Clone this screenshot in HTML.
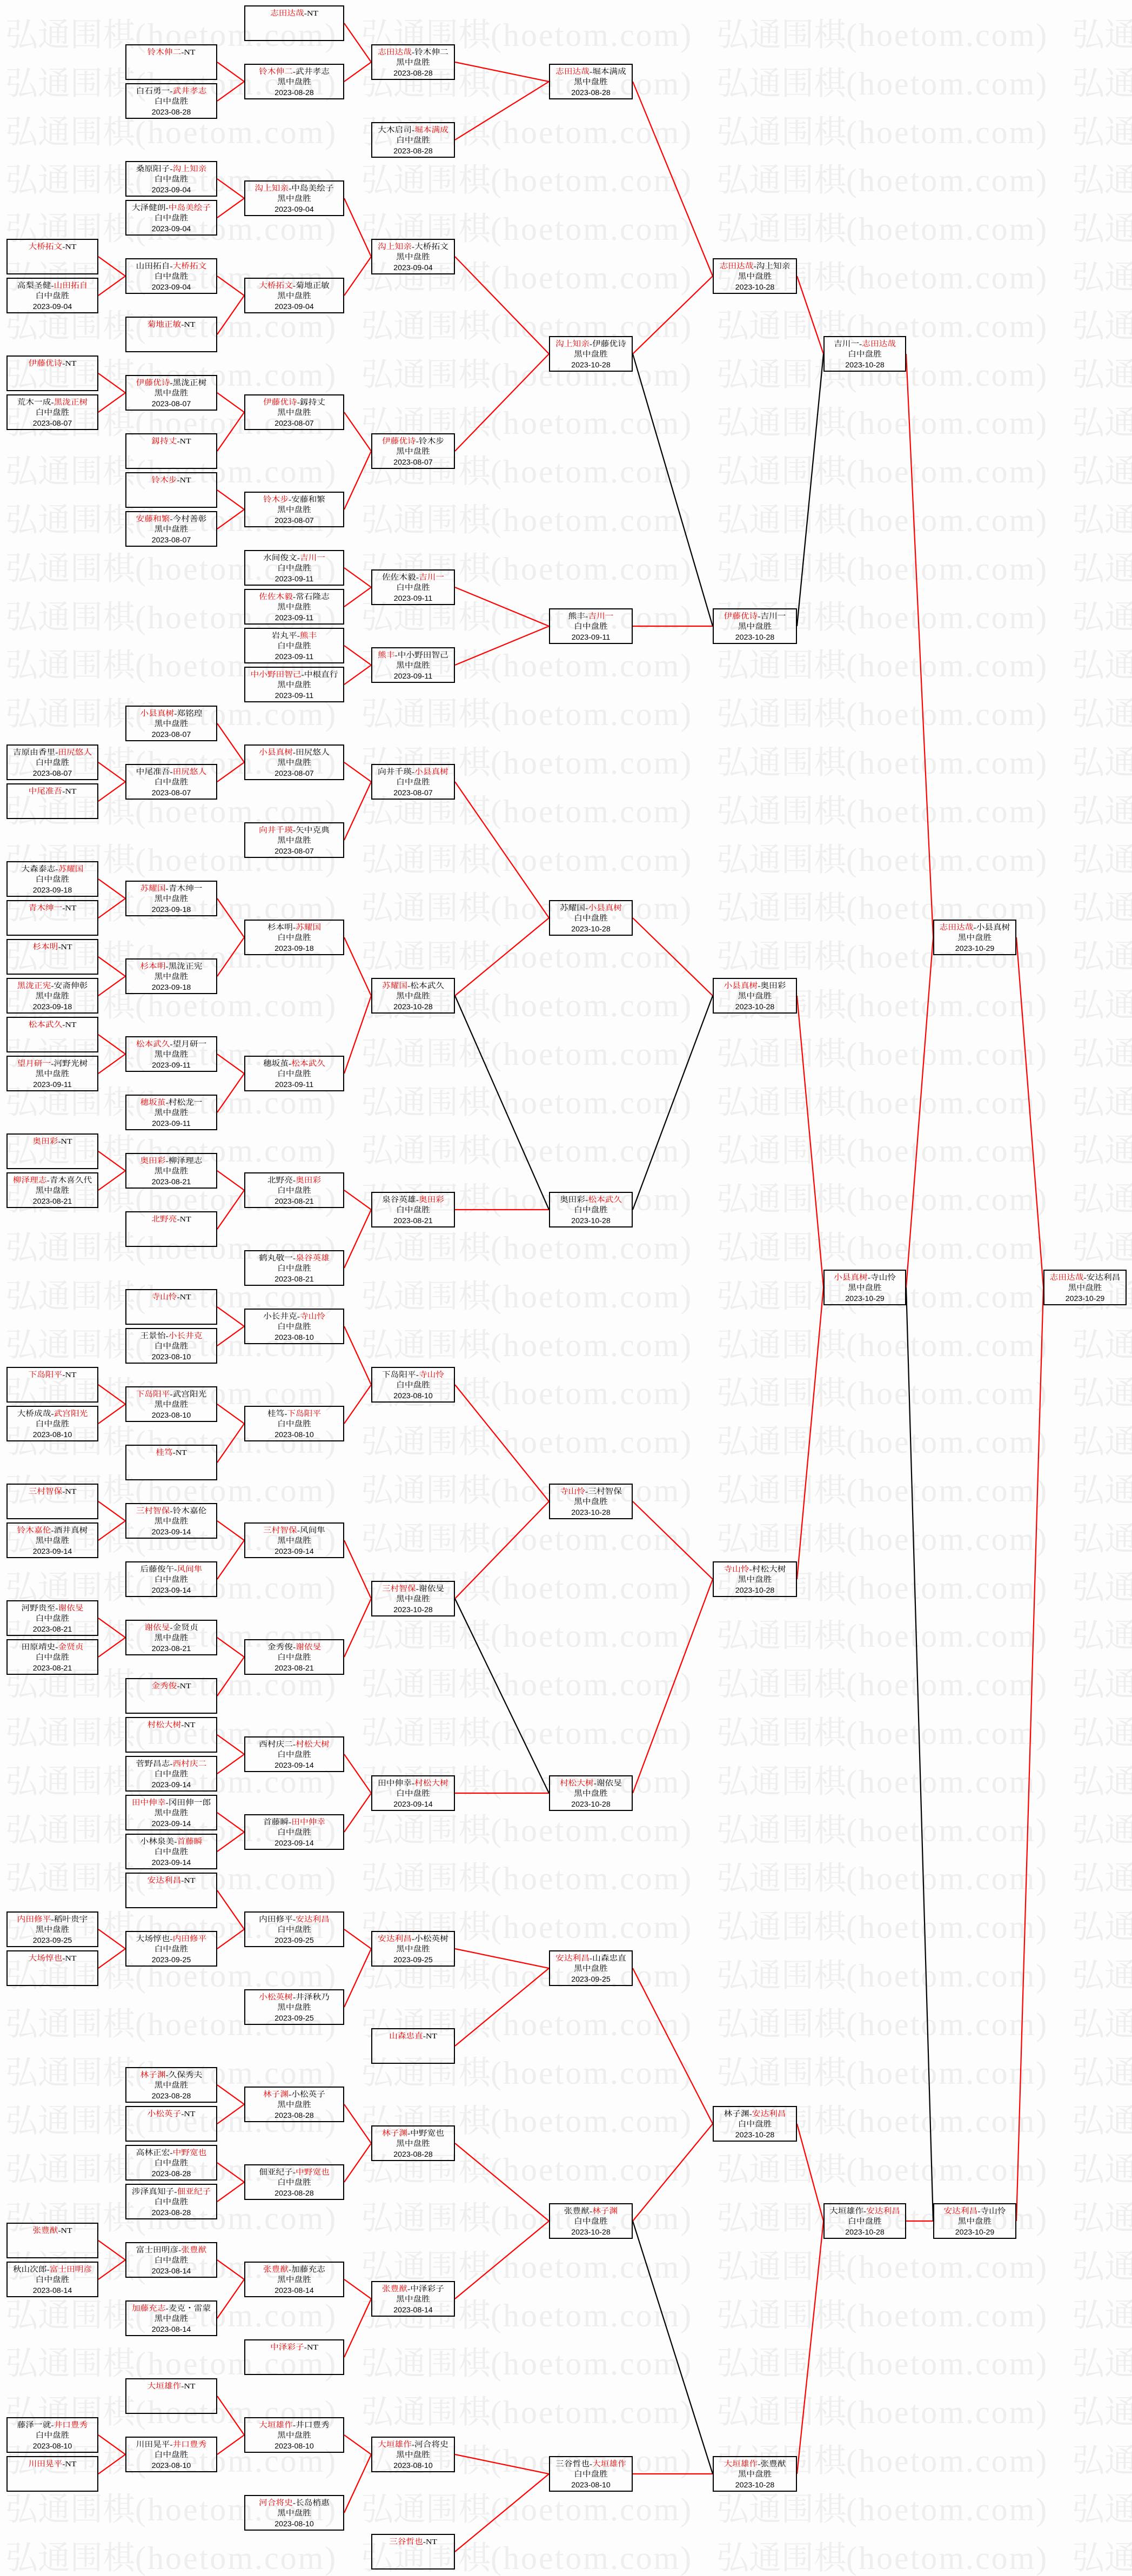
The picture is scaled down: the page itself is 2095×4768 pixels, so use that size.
<!DOCTYPE html>
<html><head><meta charset="utf-8">
<style>
html,body{margin:0;padding:0}
body{width:2095px;height:4765px;position:relative;overflow:hidden;background:#fdfdfd}
.wm{position:absolute;left:10px;white-space:nowrap;font-family:"Liberation Serif","Noto Serif CJK SC",serif;font-size:60px;line-height:60px;color:#eeeeee}
.wm span{display:inline-block;width:658px}
.wm b{font-weight:normal;letter-spacing:3px}
svg{position:absolute;left:0;top:0}
.b{position:absolute;height:66px;box-sizing:border-box;border:2px solid #000;text-align:center;padding-top:4px}
.b p{margin:0;height:19px;line-height:19px;font-size:14px;font-family:"Liberation Serif","Noto Serif CJK SC",serif;color:#000;transform:scaleX(1.12);white-space:nowrap}
.b p.d{font-family:"Liberation Sans",sans-serif;font-size:13.5px;transform:scaleX(1.05)}
.b i{font-style:normal;color:#e80000}
.c0{left:12px;width:170px}.c1{left:232px;width:170px}.c2{left:452px;width:185px}.c3{left:687px;width:155px}
.c4{left:1016px;width:155px}.c5{left:1319px;width:156px}.c6{left:1524px;width:153px}.c7{left:1727px;width:154px}.c8{left:1931px;width:154px}
</style></head><body>

<div class="wm" style="top:35px"><span>弘通围棋<b>(hoetom.com)</b></span><span>弘通围棋<b>(hoetom.com)</b></span><span>弘通围棋<b>(hoetom.com)</b></span><span>弘通围棋<b>(hoetom.com)</b></span></div>
<div class="wm" style="top:125px"><span>弘通围棋<b>(hoetom.com)</b></span><span>弘通围棋<b>(hoetom.com)</b></span><span>弘通围棋<b>(hoetom.com)</b></span><span>弘通围棋<b>(hoetom.com)</b></span></div>
<div class="wm" style="top:215px"><span>弘通围棋<b>(hoetom.com)</b></span><span>弘通围棋<b>(hoetom.com)</b></span><span>弘通围棋<b>(hoetom.com)</b></span><span>弘通围棋<b>(hoetom.com)</b></span></div>
<div class="wm" style="top:304px"><span>弘通围棋<b>(hoetom.com)</b></span><span>弘通围棋<b>(hoetom.com)</b></span><span>弘通围棋<b>(hoetom.com)</b></span><span>弘通围棋<b>(hoetom.com)</b></span></div>
<div class="wm" style="top:394px"><span>弘通围棋<b>(hoetom.com)</b></span><span>弘通围棋<b>(hoetom.com)</b></span><span>弘通围棋<b>(hoetom.com)</b></span><span>弘通围棋<b>(hoetom.com)</b></span></div>
<div class="wm" style="top:484px"><span>弘通围棋<b>(hoetom.com)</b></span><span>弘通围棋<b>(hoetom.com)</b></span><span>弘通围棋<b>(hoetom.com)</b></span><span>弘通围棋<b>(hoetom.com)</b></span></div>
<div class="wm" style="top:574px"><span>弘通围棋<b>(hoetom.com)</b></span><span>弘通围棋<b>(hoetom.com)</b></span><span>弘通围棋<b>(hoetom.com)</b></span><span>弘通围棋<b>(hoetom.com)</b></span></div>
<div class="wm" style="top:664px"><span>弘通围棋<b>(hoetom.com)</b></span><span>弘通围棋<b>(hoetom.com)</b></span><span>弘通围棋<b>(hoetom.com)</b></span><span>弘通围棋<b>(hoetom.com)</b></span></div>
<div class="wm" style="top:753px"><span>弘通围棋<b>(hoetom.com)</b></span><span>弘通围棋<b>(hoetom.com)</b></span><span>弘通围棋<b>(hoetom.com)</b></span><span>弘通围棋<b>(hoetom.com)</b></span></div>
<div class="wm" style="top:843px"><span>弘通围棋<b>(hoetom.com)</b></span><span>弘通围棋<b>(hoetom.com)</b></span><span>弘通围棋<b>(hoetom.com)</b></span><span>弘通围棋<b>(hoetom.com)</b></span></div>
<div class="wm" style="top:933px"><span>弘通围棋<b>(hoetom.com)</b></span><span>弘通围棋<b>(hoetom.com)</b></span><span>弘通围棋<b>(hoetom.com)</b></span><span>弘通围棋<b>(hoetom.com)</b></span></div>
<div class="wm" style="top:1023px"><span>弘通围棋<b>(hoetom.com)</b></span><span>弘通围棋<b>(hoetom.com)</b></span><span>弘通围棋<b>(hoetom.com)</b></span><span>弘通围棋<b>(hoetom.com)</b></span></div>
<div class="wm" style="top:1113px"><span>弘通围棋<b>(hoetom.com)</b></span><span>弘通围棋<b>(hoetom.com)</b></span><span>弘通围棋<b>(hoetom.com)</b></span><span>弘通围棋<b>(hoetom.com)</b></span></div>
<div class="wm" style="top:1202px"><span>弘通围棋<b>(hoetom.com)</b></span><span>弘通围棋<b>(hoetom.com)</b></span><span>弘通围棋<b>(hoetom.com)</b></span><span>弘通围棋<b>(hoetom.com)</b></span></div>
<div class="wm" style="top:1292px"><span>弘通围棋<b>(hoetom.com)</b></span><span>弘通围棋<b>(hoetom.com)</b></span><span>弘通围棋<b>(hoetom.com)</b></span><span>弘通围棋<b>(hoetom.com)</b></span></div>
<div class="wm" style="top:1382px"><span>弘通围棋<b>(hoetom.com)</b></span><span>弘通围棋<b>(hoetom.com)</b></span><span>弘通围棋<b>(hoetom.com)</b></span><span>弘通围棋<b>(hoetom.com)</b></span></div>
<div class="wm" style="top:1472px"><span>弘通围棋<b>(hoetom.com)</b></span><span>弘通围棋<b>(hoetom.com)</b></span><span>弘通围棋<b>(hoetom.com)</b></span><span>弘通围棋<b>(hoetom.com)</b></span></div>
<div class="wm" style="top:1562px"><span>弘通围棋<b>(hoetom.com)</b></span><span>弘通围棋<b>(hoetom.com)</b></span><span>弘通围棋<b>(hoetom.com)</b></span><span>弘通围棋<b>(hoetom.com)</b></span></div>
<div class="wm" style="top:1651px"><span>弘通围棋<b>(hoetom.com)</b></span><span>弘通围棋<b>(hoetom.com)</b></span><span>弘通围棋<b>(hoetom.com)</b></span><span>弘通围棋<b>(hoetom.com)</b></span></div>
<div class="wm" style="top:1741px"><span>弘通围棋<b>(hoetom.com)</b></span><span>弘通围棋<b>(hoetom.com)</b></span><span>弘通围棋<b>(hoetom.com)</b></span><span>弘通围棋<b>(hoetom.com)</b></span></div>
<div class="wm" style="top:1831px"><span>弘通围棋<b>(hoetom.com)</b></span><span>弘通围棋<b>(hoetom.com)</b></span><span>弘通围棋<b>(hoetom.com)</b></span><span>弘通围棋<b>(hoetom.com)</b></span></div>
<div class="wm" style="top:1921px"><span>弘通围棋<b>(hoetom.com)</b></span><span>弘通围棋<b>(hoetom.com)</b></span><span>弘通围棋<b>(hoetom.com)</b></span><span>弘通围棋<b>(hoetom.com)</b></span></div>
<div class="wm" style="top:2011px"><span>弘通围棋<b>(hoetom.com)</b></span><span>弘通围棋<b>(hoetom.com)</b></span><span>弘通围棋<b>(hoetom.com)</b></span><span>弘通围棋<b>(hoetom.com)</b></span></div>
<div class="wm" style="top:2100px"><span>弘通围棋<b>(hoetom.com)</b></span><span>弘通围棋<b>(hoetom.com)</b></span><span>弘通围棋<b>(hoetom.com)</b></span><span>弘通围棋<b>(hoetom.com)</b></span></div>
<div class="wm" style="top:2190px"><span>弘通围棋<b>(hoetom.com)</b></span><span>弘通围棋<b>(hoetom.com)</b></span><span>弘通围棋<b>(hoetom.com)</b></span><span>弘通围棋<b>(hoetom.com)</b></span></div>
<div class="wm" style="top:2280px"><span>弘通围棋<b>(hoetom.com)</b></span><span>弘通围棋<b>(hoetom.com)</b></span><span>弘通围棋<b>(hoetom.com)</b></span><span>弘通围棋<b>(hoetom.com)</b></span></div>
<div class="wm" style="top:2370px"><span>弘通围棋<b>(hoetom.com)</b></span><span>弘通围棋<b>(hoetom.com)</b></span><span>弘通围棋<b>(hoetom.com)</b></span><span>弘通围棋<b>(hoetom.com)</b></span></div>
<div class="wm" style="top:2460px"><span>弘通围棋<b>(hoetom.com)</b></span><span>弘通围棋<b>(hoetom.com)</b></span><span>弘通围棋<b>(hoetom.com)</b></span><span>弘通围棋<b>(hoetom.com)</b></span></div>
<div class="wm" style="top:2549px"><span>弘通围棋<b>(hoetom.com)</b></span><span>弘通围棋<b>(hoetom.com)</b></span><span>弘通围棋<b>(hoetom.com)</b></span><span>弘通围棋<b>(hoetom.com)</b></span></div>
<div class="wm" style="top:2639px"><span>弘通围棋<b>(hoetom.com)</b></span><span>弘通围棋<b>(hoetom.com)</b></span><span>弘通围棋<b>(hoetom.com)</b></span><span>弘通围棋<b>(hoetom.com)</b></span></div>
<div class="wm" style="top:2729px"><span>弘通围棋<b>(hoetom.com)</b></span><span>弘通围棋<b>(hoetom.com)</b></span><span>弘通围棋<b>(hoetom.com)</b></span><span>弘通围棋<b>(hoetom.com)</b></span></div>
<div class="wm" style="top:2819px"><span>弘通围棋<b>(hoetom.com)</b></span><span>弘通围棋<b>(hoetom.com)</b></span><span>弘通围棋<b>(hoetom.com)</b></span><span>弘通围棋<b>(hoetom.com)</b></span></div>
<div class="wm" style="top:2909px"><span>弘通围棋<b>(hoetom.com)</b></span><span>弘通围棋<b>(hoetom.com)</b></span><span>弘通围棋<b>(hoetom.com)</b></span><span>弘通围棋<b>(hoetom.com)</b></span></div>
<div class="wm" style="top:2998px"><span>弘通围棋<b>(hoetom.com)</b></span><span>弘通围棋<b>(hoetom.com)</b></span><span>弘通围棋<b>(hoetom.com)</b></span><span>弘通围棋<b>(hoetom.com)</b></span></div>
<div class="wm" style="top:3088px"><span>弘通围棋<b>(hoetom.com)</b></span><span>弘通围棋<b>(hoetom.com)</b></span><span>弘通围棋<b>(hoetom.com)</b></span><span>弘通围棋<b>(hoetom.com)</b></span></div>
<div class="wm" style="top:3178px"><span>弘通围棋<b>(hoetom.com)</b></span><span>弘通围棋<b>(hoetom.com)</b></span><span>弘通围棋<b>(hoetom.com)</b></span><span>弘通围棋<b>(hoetom.com)</b></span></div>
<div class="wm" style="top:3268px"><span>弘通围棋<b>(hoetom.com)</b></span><span>弘通围棋<b>(hoetom.com)</b></span><span>弘通围棋<b>(hoetom.com)</b></span><span>弘通围棋<b>(hoetom.com)</b></span></div>
<div class="wm" style="top:3358px"><span>弘通围棋<b>(hoetom.com)</b></span><span>弘通围棋<b>(hoetom.com)</b></span><span>弘通围棋<b>(hoetom.com)</b></span><span>弘通围棋<b>(hoetom.com)</b></span></div>
<div class="wm" style="top:3447px"><span>弘通围棋<b>(hoetom.com)</b></span><span>弘通围棋<b>(hoetom.com)</b></span><span>弘通围棋<b>(hoetom.com)</b></span><span>弘通围棋<b>(hoetom.com)</b></span></div>
<div class="wm" style="top:3537px"><span>弘通围棋<b>(hoetom.com)</b></span><span>弘通围棋<b>(hoetom.com)</b></span><span>弘通围棋<b>(hoetom.com)</b></span><span>弘通围棋<b>(hoetom.com)</b></span></div>
<div class="wm" style="top:3627px"><span>弘通围棋<b>(hoetom.com)</b></span><span>弘通围棋<b>(hoetom.com)</b></span><span>弘通围棋<b>(hoetom.com)</b></span><span>弘通围棋<b>(hoetom.com)</b></span></div>
<div class="wm" style="top:3717px"><span>弘通围棋<b>(hoetom.com)</b></span><span>弘通围棋<b>(hoetom.com)</b></span><span>弘通围棋<b>(hoetom.com)</b></span><span>弘通围棋<b>(hoetom.com)</b></span></div>
<div class="wm" style="top:3807px"><span>弘通围棋<b>(hoetom.com)</b></span><span>弘通围棋<b>(hoetom.com)</b></span><span>弘通围棋<b>(hoetom.com)</b></span><span>弘通围棋<b>(hoetom.com)</b></span></div>
<div class="wm" style="top:3896px"><span>弘通围棋<b>(hoetom.com)</b></span><span>弘通围棋<b>(hoetom.com)</b></span><span>弘通围棋<b>(hoetom.com)</b></span><span>弘通围棋<b>(hoetom.com)</b></span></div>
<div class="wm" style="top:3986px"><span>弘通围棋<b>(hoetom.com)</b></span><span>弘通围棋<b>(hoetom.com)</b></span><span>弘通围棋<b>(hoetom.com)</b></span><span>弘通围棋<b>(hoetom.com)</b></span></div>
<div class="wm" style="top:4076px"><span>弘通围棋<b>(hoetom.com)</b></span><span>弘通围棋<b>(hoetom.com)</b></span><span>弘通围棋<b>(hoetom.com)</b></span><span>弘通围棋<b>(hoetom.com)</b></span></div>
<div class="wm" style="top:4166px"><span>弘通围棋<b>(hoetom.com)</b></span><span>弘通围棋<b>(hoetom.com)</b></span><span>弘通围棋<b>(hoetom.com)</b></span><span>弘通围棋<b>(hoetom.com)</b></span></div>
<div class="wm" style="top:4256px"><span>弘通围棋<b>(hoetom.com)</b></span><span>弘通围棋<b>(hoetom.com)</b></span><span>弘通围棋<b>(hoetom.com)</b></span><span>弘通围棋<b>(hoetom.com)</b></span></div>
<div class="wm" style="top:4345px"><span>弘通围棋<b>(hoetom.com)</b></span><span>弘通围棋<b>(hoetom.com)</b></span><span>弘通围棋<b>(hoetom.com)</b></span><span>弘通围棋<b>(hoetom.com)</b></span></div>
<div class="wm" style="top:4435px"><span>弘通围棋<b>(hoetom.com)</b></span><span>弘通围棋<b>(hoetom.com)</b></span><span>弘通围棋<b>(hoetom.com)</b></span><span>弘通围棋<b>(hoetom.com)</b></span></div>
<div class="wm" style="top:4525px"><span>弘通围棋<b>(hoetom.com)</b></span><span>弘通围棋<b>(hoetom.com)</b></span><span>弘通围棋<b>(hoetom.com)</b></span><span>弘通围棋<b>(hoetom.com)</b></span></div>
<div class="wm" style="top:4615px"><span>弘通围棋<b>(hoetom.com)</b></span><span>弘通围棋<b>(hoetom.com)</b></span><span>弘通围棋<b>(hoetom.com)</b></span><span>弘通围棋<b>(hoetom.com)</b></span></div>
<div class="wm" style="top:4705px"><span>弘通围棋<b>(hoetom.com)</b></span><span>弘通围棋<b>(hoetom.com)</b></span><span>弘通围棋<b>(hoetom.com)</b></span><span>弘通围棋<b>(hoetom.com)</b></span></div>

<svg width="2095" height="4765" viewBox="0 0 2095 4765">
<path fill="none" stroke="#ff0000" stroke-width="2.2" d="
M182 475L232 511L182 547 M182 691L232 727L182 763 M182 1411L232 1447L182 1483 M182 1627L232 1663L182 1699 M182 1771L232 1807L182 1843 M182 1915L232 1951L182 1987 M182 2131L232 2167L182 2203 M182 2563L232 2599L182 2635 M182 2779L232 2815L182 2851 M182 2995L232 3031L182 3067 M182 3571L232 3607L182 3643 M182 4147L232 4183L182 4219 M182 4507L232 4543L182 4579
M402 115L452 151L402 187 M402 331L452 367L402 403 M402 511L452 547L402 619 M402 727L452 763L402 835 M402 907L452 943L402 979 M402 1339L452 1411L402 1447 M402 1663L452 1735L402 1807 M402 1951L452 1987L402 2059 M402 2167L452 2203L402 2275 M402 2419L452 2455L402 2491 M402 2599L452 2635L402 2707 M402 2815L452 2851L402 2923 M402 3031L452 3067L402 3139 M402 3211L452 3247L402 3283 M402 3355L452 3391L402 3427 M402 3499L452 3571L402 3607 M402 3859L452 3895L402 3931 M402 4003L452 4039L402 4075 M402 4183L452 4219L402 4291 M402 4435L452 4507L402 4543
M637 43L687 115L637 151 M637 367L687 475L637 547 M637 763L687 835L637 943 M637 1051L687 1087L637 1123 M637 1195L687 1231L637 1267 M637 1411L687 1447L637 1555 M637 1735L687 1843L637 1987 M637 2203L687 2239L637 2347 M637 2455L687 2563L637 2635 M637 2851L687 2959L637 3067 M637 3247L687 3319L637 3391 M637 3571L687 3607L637 3715 M637 3895L687 3967L637 4039 M637 4219L687 4255L637 4363 M637 4507L687 4543L637 4651
M842 115L1016 151L842 259 M842 475L1016 655L842 835 M842 1087L1016 1159L842 1231 M842 1447L1016 1699L842 1843 M842 2239L1016 2239 M842 2563L1016 2779L842 2959 M842 3319L1016 3319 M842 3607L1016 3643L842 3787 M842 3967L1016 4111L842 4255 M842 4543L1016 4579L842 4723
M1171 151L1319 511L1171 655 M1171 1159L1319 1159 M1171 1699L1319 1843 M1171 2779L1319 2923L1171 3319 M1171 3643L1319 3931L1171 4111 M1171 4579L1319 4579
M1475 511L1524 655 M1475 1843L1524 2383L1475 2923 M1475 3931L1524 4111L1475 4579
M1677 655L1727 1735L1677 2383 M1677 4111L1727 4111
M1881 1735L1931 2383L1881 4111"/>
<path fill="none" stroke="#000" stroke-width="2.2" d="M842 1843L1016 2239 M842 2959L1016 3319 M1171 655L1319 1159 M1171 2239L1319 1843 M1171 4111L1319 4579 M1475 1159L1524 655 M1677 2383L1727 4111"/>
</svg>

<!-- column 0 -->
<div class="b c0" style="top:442px"><p><i>大桥拓文</i>-NT</p></div>
<div class="b c0" style="top:514px"><p>高梨圣健-<i>山田拓自</i></p><p>白中盘胜</p><p class="d">2023-09-04</p></div>
<div class="b c0" style="top:658px"><p><i>伊藤优诗</i>-NT</p></div>
<div class="b c0" style="top:730px"><p>荒木一成-<i>黑泷正树</i></p><p>白中盘胜</p><p class="d">2023-08-07</p></div>
<div class="b c0" style="top:1378px"><p>吉原由香里-<i>田尻悠人</i></p><p>白中盘胜</p><p class="d">2023-08-07</p></div>
<div class="b c0" style="top:1450px"><p><i>中尾准吾</i>-NT</p></div>
<div class="b c0" style="top:1594px"><p>大森泰志-<i>苏耀国</i></p><p>白中盘胜</p><p class="d">2023-09-18</p></div>
<div class="b c0" style="top:1666px"><p><i>青木绅一</i>-NT</p></div>
<div class="b c0" style="top:1738px"><p><i>杉本明</i>-NT</p></div>
<div class="b c0" style="top:1810px"><p><i>黑泷正宪</i>-安斋伸彰</p><p>黑中盘胜</p><p class="d">2023-09-18</p></div>
<div class="b c0" style="top:1882px"><p><i>松本武久</i>-NT</p></div>
<div class="b c0" style="top:1954px"><p><i>望月研一</i>-河野光树</p><p>黑中盘胜</p><p class="d">2023-09-11</p></div>
<div class="b c0" style="top:2098px"><p><i>奥田彩</i>-NT</p></div>
<div class="b c0" style="top:2170px"><p><i>柳泽理志</i>-青木喜久代</p><p>黑中盘胜</p><p class="d">2023-08-21</p></div>
<div class="b c0" style="top:2530px"><p><i>下岛阳平</i>-NT</p></div>
<div class="b c0" style="top:2602px"><p>大桥成哉-<i>武宫阳光</i></p><p>白中盘胜</p><p class="d">2023-08-10</p></div>
<div class="b c0" style="top:2746px"><p><i>三村智保</i>-NT</p></div>
<div class="b c0" style="top:2818px"><p><i>铃木嘉伦</i>-酒井真树</p><p>黑中盘胜</p><p class="d">2023-09-14</p></div>
<div class="b c0" style="top:2962px"><p>河野贵至-<i>谢依旻</i></p><p>白中盘胜</p><p class="d">2023-08-21</p></div>
<div class="b c0" style="top:3034px"><p>田原靖史-<i>金贤贞</i></p><p>白中盘胜</p><p class="d">2023-08-21</p></div>
<div class="b c0" style="top:3538px"><p><i>内田修平</i>-稻叶贵宇</p><p>黑中盘胜</p><p class="d">2023-09-25</p></div>
<div class="b c0" style="top:3610px"><p><i>大场惇也</i>-NT</p></div>
<div class="b c0" style="top:4114px"><p><i>张豊猷</i>-NT</p></div>
<div class="b c0" style="top:4186px"><p>秋山次郎-<i>富士田明彦</i></p><p>白中盘胜</p><p class="d">2023-08-14</p></div>
<div class="b c0" style="top:4474px"><p>藤泽一就-<i>井口豊秀</i></p><p>白中盘胜</p><p class="d">2023-08-10</p></div>
<div class="b c0" style="top:4546px"><p><i>川田晃平</i>-NT</p></div>

<!-- column 1 -->
<div class="b c1" style="top:82px"><p><i>铃木伸二</i>-NT</p></div>
<div class="b c1" style="top:154px"><p>白石勇一-<i>武井孝志</i></p><p>白中盘胜</p><p class="d">2023-08-28</p></div>
<div class="b c1" style="top:298px"><p>桑原阳子-<i>沟上知亲</i></p><p>白中盘胜</p><p class="d">2023-09-04</p></div>
<div class="b c1" style="top:370px"><p>大泽健朗-<i>中岛美绘子</i></p><p>白中盘胜</p><p class="d">2023-09-04</p></div>
<div class="b c1" style="top:478px"><p>山田拓自-<i>大桥拓文</i></p><p>白中盘胜</p><p class="d">2023-09-04</p></div>
<div class="b c1" style="top:586px"><p><i>菊地正敏</i>-NT</p></div>
<div class="b c1" style="top:694px"><p><i>伊藤优诗</i>-黑泷正树</p><p>黑中盘胜</p><p class="d">2023-08-07</p></div>
<div class="b c1" style="top:802px"><p><i>釼持丈</i>-NT</p></div>
<div class="b c1" style="top:874px"><p><i>铃木步</i>-NT</p></div>
<div class="b c1" style="top:946px"><p><i>安藤和繁</i>-今村善彰</p><p>黑中盘胜</p><p class="d">2023-08-07</p></div>
<div class="b c1" style="top:1306px"><p><i>小县真树</i>-郑铭瑝</p><p>黑中盘胜</p><p class="d">2023-08-07</p></div>
<div class="b c1" style="top:1414px"><p>中尾准吾-<i>田尻悠人</i></p><p>白中盘胜</p><p class="d">2023-08-07</p></div>
<div class="b c1" style="top:1630px"><p><i>苏耀国</i>-青木绅一</p><p>黑中盘胜</p><p class="d">2023-09-18</p></div>
<div class="b c1" style="top:1774px"><p><i>杉本明</i>-黑泷正宪</p><p>黑中盘胜</p><p class="d">2023-09-18</p></div>
<div class="b c1" style="top:1918px"><p><i>松本武久</i>-望月研一</p><p>黑中盘胜</p><p class="d">2023-09-11</p></div>
<div class="b c1" style="top:2026px"><p><i>穗坂茧</i>-村松龙一</p><p>黑中盘胜</p><p class="d">2023-09-11</p></div>
<div class="b c1" style="top:2134px"><p><i>奥田彩</i>-柳泽理志</p><p>黑中盘胜</p><p class="d">2023-08-21</p></div>
<div class="b c1" style="top:2242px"><p><i>北野亮</i>-NT</p></div>
<div class="b c1" style="top:2386px"><p><i>寺山怜</i>-NT</p></div>
<div class="b c1" style="top:2458px"><p>王景怡-<i>小长井克</i></p><p>白中盘胜</p><p class="d">2023-08-10</p></div>
<div class="b c1" style="top:2566px"><p><i>下岛阳平</i>-武宫阳光</p><p>黑中盘胜</p><p class="d">2023-08-10</p></div>
<div class="b c1" style="top:2674px"><p><i>桂笃</i>-NT</p></div>
<div class="b c1" style="top:2782px"><p><i>三村智保</i>-铃木嘉伦</p><p>黑中盘胜</p><p class="d">2023-09-14</p></div>
<div class="b c1" style="top:2890px"><p>后藤俊午-<i>风间隼</i></p><p>白中盘胜</p><p class="d">2023-09-14</p></div>
<div class="b c1" style="top:2998px"><p><i>谢依旻</i>-金贤贞</p><p>黑中盘胜</p><p class="d">2023-08-21</p></div>
<div class="b c1" style="top:3106px"><p><i>金秀俊</i>-NT</p></div>
<div class="b c1" style="top:3178px"><p><i>村松大树</i>-NT</p></div>
<div class="b c1" style="top:3250px"><p>菅野昌志-<i>西村庆二</i></p><p>白中盘胜</p><p class="d">2023-09-14</p></div>
<div class="b c1" style="top:3322px"><p><i>田中伸幸</i>-冈田伸一郎</p><p>黑中盘胜</p><p class="d">2023-09-14</p></div>
<div class="b c1" style="top:3394px"><p>小林泉美-<i>首藤瞬</i></p><p>白中盘胜</p><p class="d">2023-09-14</p></div>
<div class="b c1" style="top:3466px"><p><i>安达利昌</i>-NT</p></div>
<div class="b c1" style="top:3574px"><p>大场惇也-<i>内田修平</i></p><p>白中盘胜</p><p class="d">2023-09-25</p></div>
<div class="b c1" style="top:3826px"><p><i>林子渊</i>-久保秀夫</p><p>黑中盘胜</p><p class="d">2023-08-28</p></div>
<div class="b c1" style="top:3898px"><p><i>小松英子</i>-NT</p></div>
<div class="b c1" style="top:3970px"><p>高林正宏-<i>中野宽也</i></p><p>白中盘胜</p><p class="d">2023-08-28</p></div>
<div class="b c1" style="top:4042px"><p>涉泽真知子-<i>佃亚纪子</i></p><p>白中盘胜</p><p class="d">2023-08-28</p></div>
<div class="b c1" style="top:4150px"><p>富士田明彦-<i>张豊猷</i></p><p>白中盘胜</p><p class="d">2023-08-14</p></div>
<div class="b c1" style="top:4258px"><p><i>加藤充志</i>-麦克・雷蒙</p><p>黑中盘胜</p><p class="d">2023-08-14</p></div>
<div class="b c1" style="top:4402px"><p><i>大垣雄作</i>-NT</p></div>
<div class="b c1" style="top:4510px"><p>川田晃平-<i>井口豊秀</i></p><p>白中盘胜</p><p class="d">2023-08-10</p></div>

<!-- column 2 -->
<div class="b c2" style="top:10px"><p><i>志田达哉</i>-NT</p></div>
<div class="b c2" style="top:118px"><p><i>铃木伸二</i>-武井孝志</p><p>黑中盘胜</p><p class="d">2023-08-28</p></div>
<div class="b c2" style="top:334px"><p><i>沟上知亲</i>-中岛美绘子</p><p>黑中盘胜</p><p class="d">2023-09-04</p></div>
<div class="b c2" style="top:514px"><p><i>大桥拓文</i>-菊地正敏</p><p>黑中盘胜</p><p class="d">2023-09-04</p></div>
<div class="b c2" style="top:730px"><p><i>伊藤优诗</i>-釼持丈</p><p>黑中盘胜</p><p class="d">2023-08-07</p></div>
<div class="b c2" style="top:910px"><p><i>铃木步</i>-安藤和繁</p><p>黑中盘胜</p><p class="d">2023-08-07</p></div>
<div class="b c2" style="top:1018px"><p>水间俊文-<i>吉川一</i></p><p>白中盘胜</p><p class="d">2023-09-11</p></div>
<div class="b c2" style="top:1090px"><p><i>佐佐木毅</i>-常石隆志</p><p>黑中盘胜</p><p class="d">2023-09-11</p></div>
<div class="b c2" style="top:1162px"><p>岩丸平-<i>熊丰</i></p><p>白中盘胜</p><p class="d">2023-09-11</p></div>
<div class="b c2" style="top:1234px"><p><i>中小野田智己</i>-中根直行</p><p>黑中盘胜</p><p class="d">2023-09-11</p></div>
<div class="b c2" style="top:1378px"><p><i>小县真树</i>-田尻悠人</p><p>黑中盘胜</p><p class="d">2023-08-07</p></div>
<div class="b c2" style="top:1522px"><p><i>向井千瑛</i>-矢中克典</p><p>黑中盘胜</p><p class="d">2023-08-07</p></div>
<div class="b c2" style="top:1702px"><p>杉本明-<i>苏耀国</i></p><p>白中盘胜</p><p class="d">2023-09-18</p></div>
<div class="b c2" style="top:1954px"><p>穗坂茧-<i>松本武久</i></p><p>白中盘胜</p><p class="d">2023-09-11</p></div>
<div class="b c2" style="top:2170px"><p>北野亮-<i>奥田彩</i></p><p>白中盘胜</p><p class="d">2023-08-21</p></div>
<div class="b c2" style="top:2314px"><p>鹤丸敬一-<i>泉谷英雄</i></p><p>白中盘胜</p><p class="d">2023-08-21</p></div>
<div class="b c2" style="top:2422px"><p>小长井克-<i>寺山怜</i></p><p>白中盘胜</p><p class="d">2023-08-10</p></div>
<div class="b c2" style="top:2602px"><p>桂笃-<i>下岛阳平</i></p><p>白中盘胜</p><p class="d">2023-08-10</p></div>
<div class="b c2" style="top:2818px"><p><i>三村智保</i>-风间隼</p><p>黑中盘胜</p><p class="d">2023-09-14</p></div>
<div class="b c2" style="top:3034px"><p>金秀俊-<i>谢依旻</i></p><p>白中盘胜</p><p class="d">2023-08-21</p></div>
<div class="b c2" style="top:3214px"><p>西村庆二-<i>村松大树</i></p><p>白中盘胜</p><p class="d">2023-09-14</p></div>
<div class="b c2" style="top:3358px"><p>首藤瞬-<i>田中伸幸</i></p><p>白中盘胜</p><p class="d">2023-09-14</p></div>
<div class="b c2" style="top:3538px"><p>内田修平-<i>安达利昌</i></p><p>白中盘胜</p><p class="d">2023-09-25</p></div>
<div class="b c2" style="top:3682px"><p><i>小松英树</i>-井泽秋乃</p><p>黑中盘胜</p><p class="d">2023-09-25</p></div>
<div class="b c2" style="top:3862px"><p><i>林子渊</i>-小松英子</p><p>黑中盘胜</p><p class="d">2023-08-28</p></div>
<div class="b c2" style="top:4006px"><p>佃亚纪子-<i>中野宽也</i></p><p>白中盘胜</p><p class="d">2023-08-28</p></div>
<div class="b c2" style="top:4186px"><p><i>张豊猷</i>-加藤充志</p><p>黑中盘胜</p><p class="d">2023-08-14</p></div>
<div class="b c2" style="top:4330px"><p><i>中泽彩子</i>-NT</p></div>
<div class="b c2" style="top:4474px"><p><i>大垣雄作</i>-井口豊秀</p><p>黑中盘胜</p><p class="d">2023-08-10</p></div>
<div class="b c2" style="top:4618px"><p><i>河合将史</i>-长岛梢惠</p><p>黑中盘胜</p><p class="d">2023-08-10</p></div>

<!-- column 3 -->
<div class="b c3" style="top:82px"><p><i>志田达哉</i>-铃木伸二</p><p>黑中盘胜</p><p class="d">2023-08-28</p></div>
<div class="b c3" style="top:226px"><p>大木启司-<i>堀本满成</i></p><p>白中盘胜</p><p class="d">2023-08-28</p></div>
<div class="b c3" style="top:442px"><p><i>沟上知亲</i>-大桥拓文</p><p>黑中盘胜</p><p class="d">2023-09-04</p></div>
<div class="b c3" style="top:802px"><p><i>伊藤优诗</i>-铃木步</p><p>黑中盘胜</p><p class="d">2023-08-07</p></div>
<div class="b c3" style="top:1054px"><p>佐佐木毅-<i>吉川一</i></p><p>白中盘胜</p><p class="d">2023-09-11</p></div>
<div class="b c3" style="top:1198px"><p><i>熊丰</i>-中小野田智己</p><p>黑中盘胜</p><p class="d">2023-09-11</p></div>
<div class="b c3" style="top:1414px"><p>向井千瑛-<i>小县真树</i></p><p>白中盘胜</p><p class="d">2023-08-07</p></div>
<div class="b c3" style="top:1810px"><p><i>苏耀国</i>-松本武久</p><p>黑中盘胜</p><p class="d">2023-10-28</p></div>
<div class="b c3" style="top:2206px"><p>泉谷英雄-<i>奥田彩</i></p><p>白中盘胜</p><p class="d">2023-08-21</p></div>
<div class="b c3" style="top:2530px"><p>下岛阳平-<i>寺山怜</i></p><p>白中盘胜</p><p class="d">2023-08-10</p></div>
<div class="b c3" style="top:2926px"><p><i>三村智保</i>-谢依旻</p><p>黑中盘胜</p><p class="d">2023-10-28</p></div>
<div class="b c3" style="top:3286px"><p>田中伸幸-<i>村松大树</i></p><p>白中盘胜</p><p class="d">2023-09-14</p></div>
<div class="b c3" style="top:3574px"><p><i>安达利昌</i>-小松英树</p><p>黑中盘胜</p><p class="d">2023-09-25</p></div>
<div class="b c3" style="top:3754px"><p><i>山森忠直</i>-NT</p></div>
<div class="b c3" style="top:3934px"><p><i>林子渊</i>-中野宽也</p><p>黑中盘胜</p><p class="d">2023-08-28</p></div>
<div class="b c3" style="top:4222px"><p><i>张豊猷</i>-中泽彩子</p><p>黑中盘胜</p><p class="d">2023-08-14</p></div>
<div class="b c3" style="top:4510px"><p><i>大垣雄作</i>-河合将史</p><p>黑中盘胜</p><p class="d">2023-08-10</p></div>
<div class="b c3" style="top:4690px"><p><i>三谷哲也</i>-NT</p></div>

<!-- column 4 -->
<div class="b c4" style="top:118px"><p><i>志田达哉</i>-堀本满成</p><p>黑中盘胜</p><p class="d">2023-08-28</p></div>
<div class="b c4" style="top:622px"><p><i>沟上知亲</i>-伊藤优诗</p><p>黑中盘胜</p><p class="d">2023-10-28</p></div>
<div class="b c4" style="top:1126px"><p>熊丰-<i>吉川一</i></p><p>白中盘胜</p><p class="d">2023-09-11</p></div>
<div class="b c4" style="top:1666px"><p>苏耀国-<i>小县真树</i></p><p>白中盘胜</p><p class="d">2023-10-28</p></div>
<div class="b c4" style="top:2206px"><p>奥田彩-<i>松本武久</i></p><p>白中盘胜</p><p class="d">2023-10-28</p></div>
<div class="b c4" style="top:2746px"><p><i>寺山怜</i>-三村智保</p><p>黑中盘胜</p><p class="d">2023-10-28</p></div>
<div class="b c4" style="top:3286px"><p><i>村松大树</i>-谢依旻</p><p>黑中盘胜</p><p class="d">2023-10-28</p></div>
<div class="b c4" style="top:3610px"><p><i>安达利昌</i>-山森忠直</p><p>黑中盘胜</p><p class="d">2023-09-25</p></div>
<div class="b c4" style="top:4078px"><p>张豊猷-<i>林子渊</i></p><p>白中盘胜</p><p class="d">2023-10-28</p></div>
<div class="b c4" style="top:4546px"><p>三谷哲也-<i>大垣雄作</i></p><p>白中盘胜</p><p class="d">2023-08-10</p></div>

<!-- column 5 -->
<div class="b c5" style="top:478px"><p><i>志田达哉</i>-沟上知亲</p><p>黑中盘胜</p><p class="d">2023-10-28</p></div>
<div class="b c5" style="top:1126px"><p><i>伊藤优诗</i>-吉川一</p><p>黑中盘胜</p><p class="d">2023-10-28</p></div>
<div class="b c5" style="top:1810px"><p><i>小县真树</i>-奥田彩</p><p>黑中盘胜</p><p class="d">2023-10-28</p></div>
<div class="b c5" style="top:2890px"><p><i>寺山怜</i>-村松大树</p><p>黑中盘胜</p><p class="d">2023-10-28</p></div>
<div class="b c5" style="top:3898px"><p>林子渊-<i>安达利昌</i></p><p>白中盘胜</p><p class="d">2023-10-28</p></div>
<div class="b c5" style="top:4546px"><p><i>大垣雄作</i>-张豊猷</p><p>黑中盘胜</p><p class="d">2023-10-28</p></div>

<!-- column 6 -->
<div class="b c6" style="top:622px"><p>吉川一-<i>志田达哉</i></p><p>白中盘胜</p><p class="d">2023-10-28</p></div>
<div class="b c6" style="top:2350px"><p><i>小县真树</i>-寺山怜</p><p>黑中盘胜</p><p class="d">2023-10-29</p></div>
<div class="b c6" style="top:4078px"><p>大垣雄作-<i>安达利昌</i></p><p>白中盘胜</p><p class="d">2023-10-28</p></div>

<!-- column 7 -->
<div class="b c7" style="top:1702px"><p><i>志田达哉</i>-小县真树</p><p>黑中盘胜</p><p class="d">2023-10-29</p></div>
<div class="b c7" style="top:4078px"><p><i>安达利昌</i>-寺山怜</p><p>黑中盘胜</p><p class="d">2023-10-29</p></div>

<!-- column 8 -->
<div class="b c8" style="top:2350px"><p><i>志田达哉</i>-安达利昌</p><p>黑中盘胜</p><p class="d">2023-10-29</p></div>

</body></html>
